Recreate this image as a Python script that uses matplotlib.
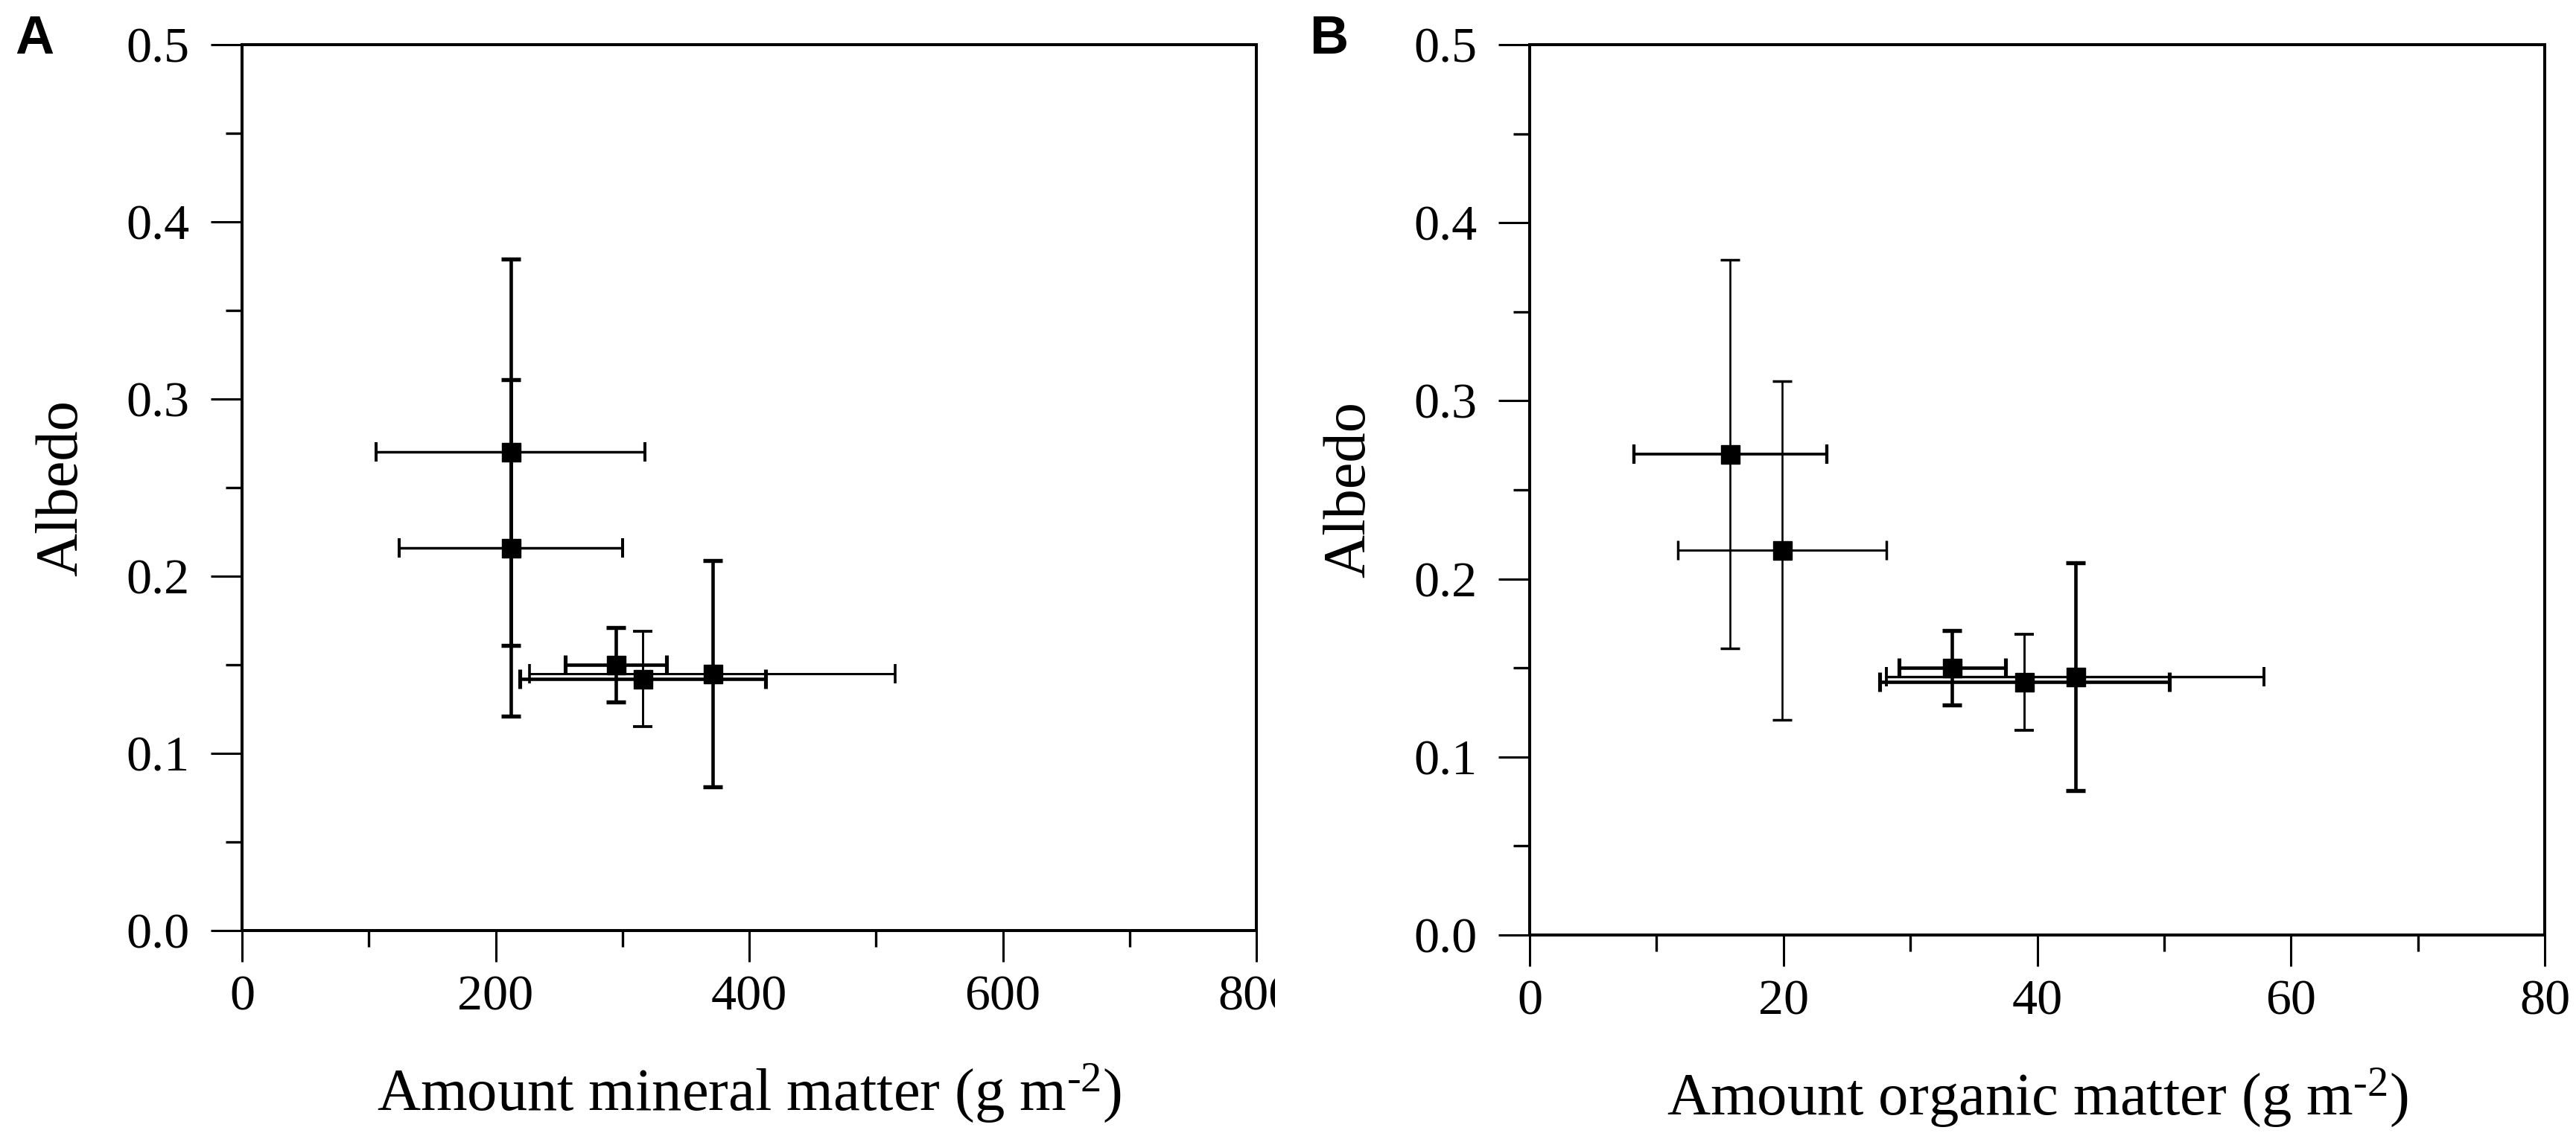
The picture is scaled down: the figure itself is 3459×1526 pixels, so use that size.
import matplotlib
matplotlib.use('Agg')
import matplotlib.pyplot as plt
from matplotlib.ticker import MultipleLocator, FormatStrFormatter, FuncFormatter
from matplotlib.transforms import Bbox, TransformedBbox, ScaledTranslation

plt.rcParams['font.family'] = ['Liberation Serif', 'DejaVu Serif']
plt.rcParams['mathtext.fontset'] = 'custom'
plt.rcParams['mathtext.rm'] = 'Liberation Serif'
plt.rcParams['mathtext.it'] = 'Liberation Serif:italic'

# ---- data ----
albedo = [0.270, 0.216, 0.150, 0.142, 0.145]
albedo_err = [0.109, 0.095, 0.021, 0.027, 0.064]
mineral = [212, 212, 295, 316, 371]
mineral_err = [106, 88, 40, 97, 144]
organic = [15.8, 19.9, 33.3, 39.0, 43.0]
organic_err = [7.6, 8.2, 4.2, 11.4, 14.9]

x_ticks_a = [0, 200, 400, 600, 800]
x_ticks_b = [0, 20, 40, 60, 80]
y_ticks = [0.0, 0.1, 0.2, 0.3, 0.4, 0.5]

# ---- styles ----
lw_x_a = [2.5, 2.5, 3.3, 3.3, 2.2]
lw_y_a = [3.3, 3.3, 3.3, 2.1, 3.3]
lw_x_b = [2.7, 2.1, 3.3, 3.3, 2.4]
lw_y_b = [1.9, 1.9, 3.3, 2.1, 3.3]

W, H = 3459, 1526
fig = plt.figure(figsize=(W / 100, H / 100), dpi=100)
fig.patch.set_facecolor('white')

ax_a = fig.add_axes([325 / W, 1 - 1250 / H, (1687 - 325) / W, (1250 - 60) / H])
ax_b = fig.add_axes([2054 / W, 1 - 1256 / H, (3417 - 2054) / W, (1256 - 60) / H])

TICK_FS = 49
LABEL_FS = 58
XPAD = 13
HYPHEN = '\u2010'


def style_axes(ax, xlim, xticks, xminor, xlabel, hide_last=False):
    ax.set_xlim(*xlim)
    ax.set_ylim(0, 0.5)
    ax.set_xticks(xticks)
    ax.set_yticks(y_ticks)
    ax.xaxis.set_minor_locator(MultipleLocator(xminor))
    ax.yaxis.set_minor_locator(MultipleLocator(0.05))
    ax.yaxis.set_major_formatter(FormatStrFormatter('%.1f'))
    if hide_last:
        ax.xaxis.set_major_formatter(FuncFormatter(
            lambda v, p: '' if v == xticks[-1] else '%d' % v))
    else:
        ax.xaxis.set_major_formatter(FormatStrFormatter('%d'))
    for s in ax.spines.values():
        s.set_linewidth(2.9)
    ax.tick_params(which='major', direction='out', length=30, width=2.2,
                   top=False, right=False, labelsize=TICK_FS, color='black')
    ax.tick_params(axis='x', which='major', pad=XPAD)
    ax.tick_params(axis='y', which='major', pad=21)
    ax.tick_params(which='minor', direction='out', length=16, width=2.4,
                   top=False, right=False)
    ax.set_ylabel('Albedo', fontsize=LABEL_FS)
    ax.yaxis.set_label_coords(-0.150, 0.5)
    ax.set_xlabel(xlabel, fontsize=LABEL_FS)
    ax.xaxis.set_label_coords(0.5, -0.148)


def draw_points(ax, xs, xerrs, lwx, lwy):
    for i in range(len(xs)):
        ax.errorbar(xs[i], albedo[i], yerr=albedo_err[i], fmt='none',
                    ecolor='black', elinewidth=lwy[i], capsize=9.5,
                    capthick=lwy[i] + 0.6, zorder=3)
        ax.errorbar(xs[i], albedo[i], xerr=xerrs[i], fmt='none',
                    ecolor='black', elinewidth=lwx[i], capsize=9.5,
                    capthick=lwx[i] + 0.4, zorder=3)
    ax.plot(xs, albedo, 's', color='black', markersize=18, zorder=5)


style_axes(ax_a, (0, 800), x_ticks_a, 100,
           'Amount mineral matter (g m$^{' + HYPHEN + '2}$)', hide_last=True)
style_axes(ax_b, (0, 80), x_ticks_b, 10,
           'Amount organic matter (g m$^{' + HYPHEN + '2}$)')

draw_points(ax_a, mineral, mineral_err, lw_x_a, lw_y_a)
draw_points(ax_b, organic, organic_err, lw_x_b, lw_y_b)

# last tick label of panel A is cut off at the picture edge in the reference
off = ScaledTranslation(0, -(30 + XPAD) / 72, fig.dpi_scale_trans)
t = fig.text(x_ticks_a[-1], 0, '%d' % x_ticks_a[-1], fontsize=TICK_FS,
             ha='center', va='top',
             transform=ax_a.get_xaxis_transform() + off)
t.set_clip_box(TransformedBbox(Bbox.from_extents(0, 0, 1712 / W, 1),
                               fig.transFigure))
t.set_clip_on(True)

fig.text(20 / W, 1 - 72 / H, 'A', fontfamily='Liberation Sans',
         fontweight='bold', fontsize=52, va='baseline', ha='left')
fig.text(1758 / W, 1 - 72 / H, 'B', fontfamily='Liberation Sans',
         fontweight='bold', fontsize=52, va='baseline', ha='left')

fig.savefig('out.png', dpi=100, facecolor='white')
